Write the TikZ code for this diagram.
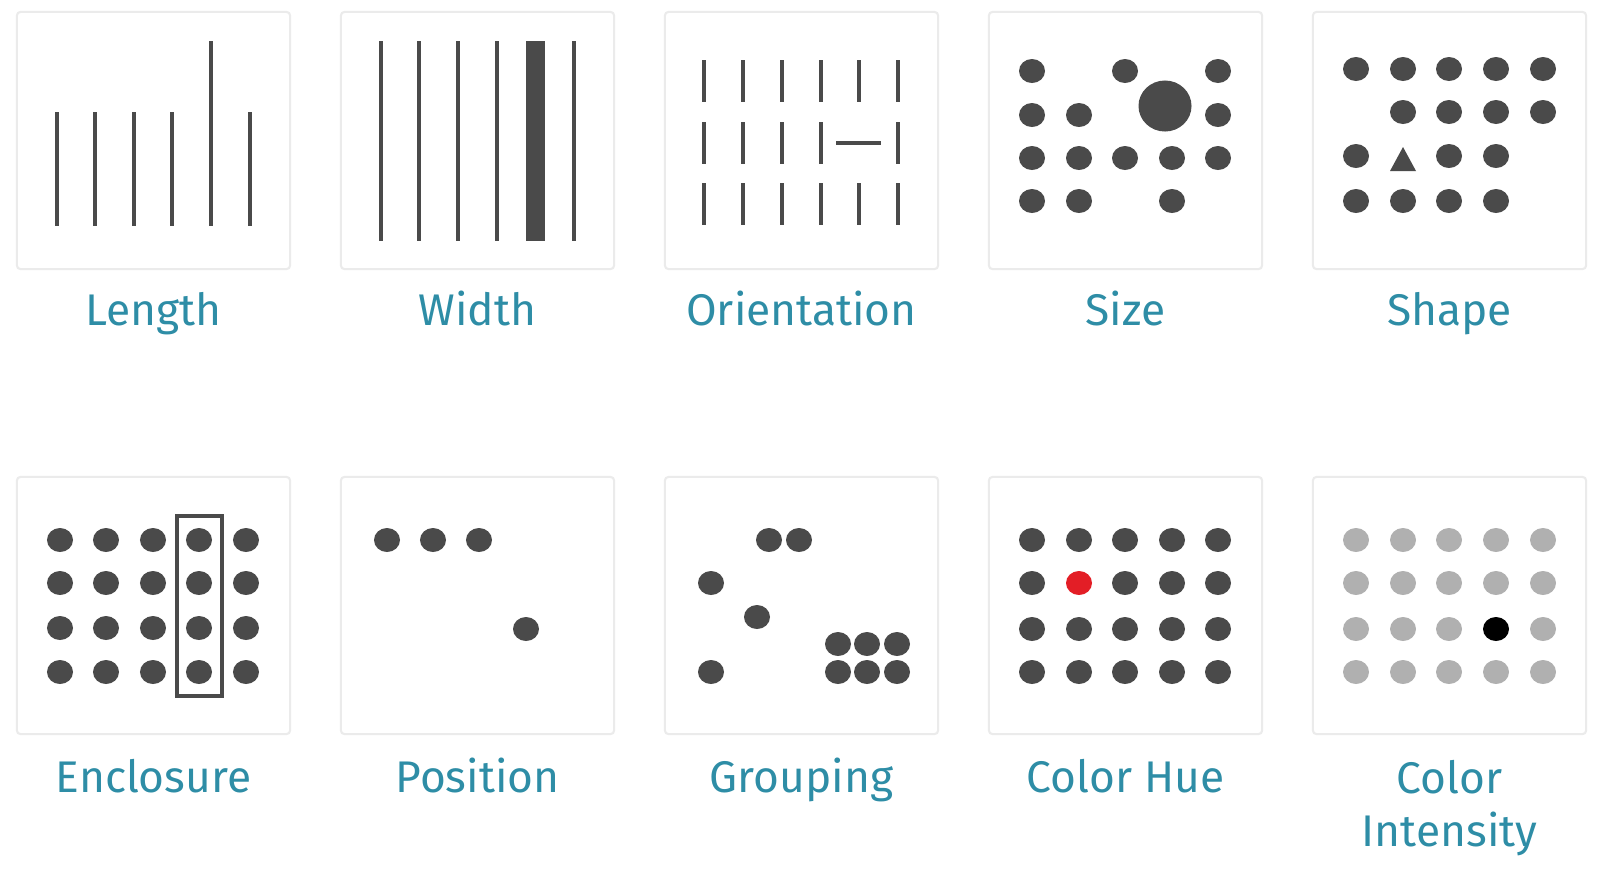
\documentclass[tikz,border=0pt]{standalone}
\usepackage{fontspec}
\setmainfont{Fira Sans}
\usetikzlibrary{shapes.geometric}
\definecolor{ink}{HTML}{4A4A4A}
\definecolor{faint}{HTML}{B0B0B0}
\definecolor{hue}{HTML}{E31E26}
\definecolor{edge}{HTML}{EBEBEB}
\definecolor{labelblue}{HTML}{2E8DA6}

\begin{document}
\begin{tikzpicture}[x=0.01cm, y=-0.01cm,
    panel/.style={draw=edge, line width=0.6pt, rounded corners=1pt, minimum width=2.73cm, minimum height=2.57cm, inner sep=0pt},
    dot/.style={ellipse, fill=ink, inner sep=0pt, minimum width=0.26cm, minimum height=0.24cm},
    bar/.style={draw=ink, line width=0.04cm},
    caption/.style={text=labelblue, font=\fontsize{12.6}{15}\selectfont, anchor=base, inner sep=0pt, align=center}]
  \useasboundingbox (0,0) rectangle (1600,869);
  \foreach \x [count=\i] in {153.5,477.5,801.5,1125.5,1449.5} {
    \node[panel] (top\i) at (\x,140.5) {};
    \node[panel] (bot\i) at (\x,605.5) {};
  }
  \foreach \x/\t in {57/112,95/112,134/112,172/112,211/41,250/112}
    \draw[bar] (\x,\t) -- (\x,226);
  \foreach \x in {381,419,458,497,574}
    \draw[bar] (\x,41) -- (\x,241);
  \fill[ink] (526,41) rectangle (545,241);
  \foreach \x [count=\c] in {704,743,782,821,859,898}
    \foreach \y [count=\r] in {60,122,183}
      {\ifnum\c\r=52 \draw[bar] (836,143) -- (881,143); \else \draw[bar] (\x,\y) -- (\x,\y+42); \fi}
  \foreach \x/\y [count=\i] in {1032/71,1125/71,1218/71,1032/115,1079/115,1218/115,1032/158,1079/158,1125/158,1172/158,1218/158,1032/201,1079/201,1172/201}
    \node[dot] (size\i) at (\x,\y) {};
  \node[dot, minimum width=0.53cm, minimum height=0.51cm] (sizebig) at (1165,106) {};
  \foreach \x/\y [count=\i] in {1356/69,1403/69,1449/69,1496/69,1543/69,1403/112,1449/112,1496/112,1543/112,1356/156,1449/156,1496/156,1356/201,1403/201,1449/201,1496/201}
    \node[dot] (shape\i) at (\x,\y) {};
  \fill[ink] (1390,171) -- (1403,147) -- (1416,171) -- cycle;
  \foreach \x [count=\c] in {60,106,153,199,246}
    \foreach \y [count=\r] in {540,583,628,672}
      \node[dot] (encl\c\r) at (\x,\y) {};
  \draw[draw=ink, line width=0.033cm] (177,516) rectangle (222,696);
  \foreach \x/\y [count=\i] in {387/540,433/540,479/540,526/629}
    \node[dot] (pos\i) at (\x,\y) {};
  \foreach \x/\y [count=\i] in {769/540,799/540,711/583,757/617,711/672,838/644,867/644,897/644,838/672,867/672,897/672}
    \node[dot] (grp\i) at (\x,\y) {};
  \foreach \x [count=\c] in {1032,1079,1125,1172,1218}
    \foreach \y [count=\r] in {540,583,629,672}
      {\ifnum\c\r=22 \node[dot, fill=hue] (hue\c\r) at (\x,\y) {}; \else \node[dot] (hue\c\r) at (\x,\y) {}; \fi}
  \foreach \x [count=\c] in {1356,1403,1449,1496,1543}
    \foreach \y [count=\r] in {540,583,629,672}
      {\ifnum\c\r=43 \node[dot, fill=black] (int\c\r) at (\x,\y) {}; \else \node[dot, fill=faint] (int\c\r) at (\x,\y) {}; \fi}
  \node[caption] (lab1) at (153.5,325) {Length};
  \node[caption] (lab2) at (477.5,325) {Width};
  \node[caption] (lab3) at (801.5,325) {Orientation};
  \node[caption] (lab4) at (1125.5,325) {Size};
  \node[caption] (lab5) at (1449.5,325) {Shape};
  \node[caption] (lab6) at (153.5,792) {Enclosure};
  \node[caption] (lab7) at (477.5,792) {Position};
  \node[caption] (lab8) at (801.5,792) {Grouping};
  \node[caption] (lab9) at (1125.5,792) {Color Hue};
  \node[caption] (lab10) at (1449.5,846) {Color\\Intensity};
\end{tikzpicture}
\end{document}
